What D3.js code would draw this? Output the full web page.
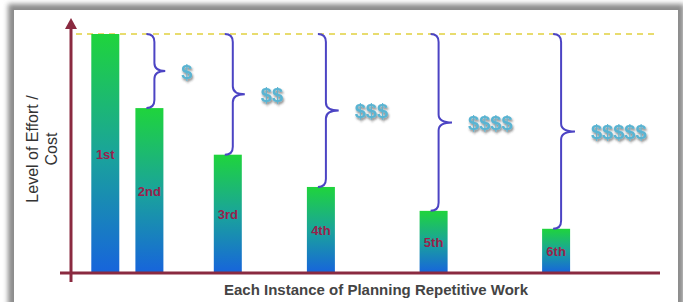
<!DOCTYPE html>
<html>
<head>
<meta charset="utf-8">
<script src="https://cdn.jsdelivr.net/npm/d3@7"></script>
<style>
  html, body { margin: 0; padding: 0; background: #fff; }
  svg { display: block; font-family: Arial, "Liberation Sans", sans-serif; }
</style>
</head>
<body>
<div id="chart"></div>
<script>
// instances of planning the same work, and the effort each one takes
var instances = ["1st", "2nd", "3rd", "4th", "5th", "6th"];
var effort = [100, 69, 49.5, 36, 26, 18.5];
var instancePos = [0.7, 1.6, 3.2, 5.1, 7.4, 9.9];
var savingLabels = ["$", "$$", "$$$", "$$$$", "$$$$$"];

var width = 683, height = 302;
var barW = 28;

var svg = d3.select("#chart").append("svg")
    .attr("width", width)
    .attr("height", height);

var defs = svg.append("defs");

var grad = defs.append("linearGradient")
    .attr("id", "barGrad")
    .attr("x1", 0).attr("y1", 0).attr("x2", 0).attr("y2", 1);
grad.append("stop").attr("offset", "0%").attr("stop-color", "#1fd43c");
grad.append("stop").attr("offset", "50%").attr("stop-color", "#1aa49a");
grad.append("stop").attr("offset", "100%").attr("stop-color", "#1764dc");

var blur = defs.append("filter").attr("id", "frameShadow")
    .attr("x", "-5%").attr("y", "-5%").attr("width", "110%").attr("height", "110%");
blur.append("feGaussianBlur").attr("stdDeviation", 2.5);

var txtShadow = defs.append("filter").attr("id", "txtShadow")
    .attr("x", "-20%").attr("y", "-30%").attr("width", "150%").attr("height", "170%");
txtShadow.append("feDropShadow")
    .attr("dx", 1).attr("dy", 2).attr("stdDeviation", 1.2)
    .attr("flood-color", "#333").attr("flood-opacity", 0.6);

// picture frame with soft grey shadow
svg.append("rect")
    .attr("x", 8).attr("y", 4).attr("width", 676).attr("height", 310)
    .attr("fill", "#8c8c8c")
    .attr("filter", "url(#frameShadow)");
svg.append("rect")
    .attr("x", 14).attr("y", 10).attr("width", 664).attr("height", 300)
    .attr("fill", "#fff");

var x = d3.scaleLinear().domain([0, 12]).range([71, 659]);
var y = d3.scaleLinear().domain([0, 100]).range([273, 34]);

var targetY = y(d3.max(effort));

// target line at first-instance effort
svg.append("line")
    .attr("x1", 76).attr("x2", 655)
    .attr("y1", targetY).attr("y2", targetY)
    .attr("stroke", "#e8dc6e")
    .attr("stroke-width", 2)
    .attr("stroke-dasharray", "6,5");

// bars
svg.selectAll(".bar")
    .data(effort)
    .enter()
    .append("rect")
    .attr("class", "bar")
    .attr("x", function(d, i) { return x(instancePos[i]) - barW / 2 })
    .attr("y", function(d) { return y(d) })
    .attr("width", barW)
    .attr("height", function(d) { return y(0) - y(d) })
    .attr("fill", "url(#barGrad)");

svg.selectAll(".barLabel")
    .data(effort)
    .enter()
    .append("text")
    .attr("class", "barLabel")
    .attr("x", function(d, i) { return x(instancePos[i]) })
    .attr("y", function(d) { return (y(d) + y(0)) / 2 + 5 })
    .attr("text-anchor", "middle")
    .attr("font-size", 13)
    .attr("font-weight", "bold")
    .attr("fill", "#9a1f4c")
    .text(function(d, i) { return instances[i] });

// braces from the target line down to each later bar
var braces = effort.slice(1).map(function(d, i) {
    var span = y(d) - targetY;
    return {
        xv: x(instancePos[i + 1]) + 5,
        y0: targetY,
        y1: y(d),
        tip: 9 + span / 40,
        label: savingLabels[i]
    };
});

var bracePath = function(b) {
    var r = 8, ym = (b.y0 + b.y1) / 2, xv = b.xv;
    var p = d3.path();
    p.moveTo(xv - 8, b.y0);
    p.quadraticCurveTo(xv, b.y0, xv, b.y0 + r);
    p.lineTo(xv, ym - r);
    p.quadraticCurveTo(xv, ym, xv + b.tip, ym);
    p.quadraticCurveTo(xv, ym, xv, ym + r);
    p.lineTo(xv, b.y1 - r);
    p.quadraticCurveTo(xv, b.y1, xv - 8, b.y1);
    return p.toString();
};

svg.selectAll(".brace")
    .data(braces)
    .enter()
    .append("path")
    .attr("class", "brace")
    .attr("d", bracePath)
    .attr("fill", "none")
    .attr("stroke", "#4c44c4")
    .attr("stroke-width", 2);

svg.selectAll(".saving")
    .data(braces)
    .enter()
    .append("text")
    .attr("class", "saving")
    .attr("x", function(b) { return b.xv + b.tip + 16 })
    .attr("y", function(b) { return (b.y0 + b.y1) / 2 + 8 })
    .attr("font-size", 20)
    .attr("font-weight", "bold")
    .attr("fill", "#5ab4d2")
    .attr("filter", "url(#txtShadow)")
    .text(function(b) { return b.label });

// axes
var axisColor = "#8a2a40";
svg.append("line")
    .attr("x1", 60).attr("x2", 660)
    .attr("y1", y(0)).attr("y2", y(0))
    .attr("stroke", axisColor).attr("stroke-width", 3);
svg.append("line")
    .attr("x1", 71).attr("x2", 71)
    .attr("y1", 27).attr("y2", 282)
    .attr("stroke", axisColor).attr("stroke-width", 3);
svg.append("path")
    .attr("d", "M65,29 L71,18 L77,29 Z")
    .attr("fill", axisColor);

// axis titles
svg.append("text")
    .attr("transform", "translate(38,149) rotate(-90)")
    .attr("text-anchor", "middle")
    .attr("font-size", 16)
    .attr("fill", "#333")
    .text("Level of Effort /");
svg.append("text")
    .attr("transform", "translate(57,149) rotate(-90)")
    .attr("text-anchor", "middle")
    .attr("font-size", 16)
    .attr("fill", "#333")
    .text("Cost");

svg.append("text")
    .attr("x", 376).attr("y", 295)
    .attr("text-anchor", "middle")
    .attr("font-size", 15)
    .attr("font-weight", "bold")
    .attr("fill", "#444")
    .text("Each Instance of Planning Repetitive Work");
</script>
</body>
</html>
